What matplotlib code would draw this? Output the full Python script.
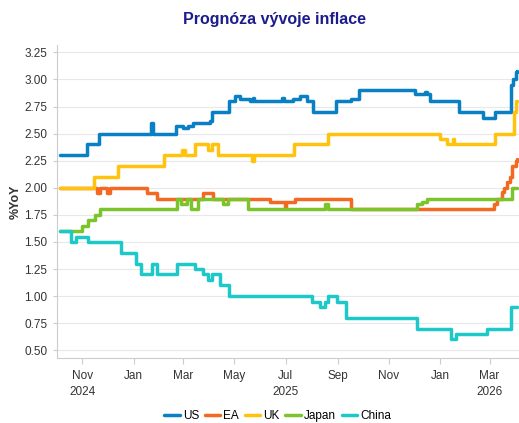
import pandas as pd
import matplotlib
matplotlib.use("Agg")
from matplotlib import pyplot as plt

plt.rcParams['font.family'] = ['Liberation Sans', 'DejaVu Sans']

# step change points (date, value)
us_dates = ['2024-10-06', '2024-11-07', '2024-11-21', '2025-01-22', '2025-01-24', '2025-02-20',
            '2025-03-01', '2025-03-07', '2025-03-13', '2025-04-02', '2025-04-05', '2025-04-25',
            '2025-05-02', '2025-05-08', '2025-05-20', '2025-05-23', '2025-05-25', '2025-06-27',
            '2025-06-29', '2025-07-10', '2025-07-18', '2025-07-27', '2025-08-03', '2025-08-30',
            '2025-09-17', '2025-09-26', '2025-12-02', '2025-12-14', '2025-12-16', '2025-12-20',
            '2026-01-24', '2026-02-21', '2026-03-07', '2026-03-27', '2026-03-29', '2026-04-01',
            '2026-04-03']
us_vals = [2.30, 2.40, 2.50, 2.60, 2.50, 2.57,
           2.55, 2.57, 2.60, 2.62, 2.70, 2.80,
           2.85, 2.82, 2.80, 2.83, 2.80, 2.83,
           2.80, 2.82, 2.85, 2.80, 2.70, 2.80,
           2.82, 2.90, 2.87, 2.88, 2.87, 2.80,
           2.70, 2.64, 2.70, 2.95, 3.00, 3.07,
           3.08]

ea_dates = ['2024-10-06', '2024-11-19', '2024-11-22', '2024-12-01', '2024-12-04', '2025-01-17',
            '2025-01-29', '2025-03-25', '2025-04-06', '2025-06-13', '2025-06-30', '2025-07-02',
            '2025-07-12', '2025-09-17', '2026-03-06', '2026-03-10', '2026-03-16', '2026-03-18',
            '2026-03-22', '2026-03-25', '2026-03-28', '2026-04-01', '2026-04-03']
ea_vals = [2.00, 1.95, 2.00, 1.95, 2.00, 1.95,
           1.90, 1.95, 1.90, 1.87, 1.82, 1.87,
           1.90, 1.80, 1.85, 1.90, 1.96, 2.00,
           2.05, 2.10, 2.20, 2.25, 2.27]

uk_dates = ['2024-10-06', '2024-11-15', '2024-12-13', '2025-02-06', '2025-02-28', '2025-03-03',
            '2025-03-15', '2025-03-31', '2025-04-05', '2025-04-12', '2025-05-22', '2025-05-25',
            '2025-07-11', '2025-08-20', '2026-01-01', '2026-01-09', '2026-01-12', '2026-01-16',
            '2026-01-18', '2026-03-07', '2026-03-30', '2026-04-01', '2026-04-03']
uk_vals = [2.00, 2.10, 2.20, 2.30, 2.35, 2.30,
           2.40, 2.35, 2.40, 2.30, 2.25, 2.30,
           2.40, 2.50, 2.45, 2.40, 2.40, 2.45,
           2.40, 2.50, 2.70, 2.80, 2.80]

jp_dates = ['2024-10-06', '2024-11-01', '2024-11-08', '2024-11-16', '2024-11-22', '2025-02-22',
            '2025-02-26', '2025-03-06', '2025-03-10', '2025-03-19', '2025-04-18', '2025-04-23',
            '2025-05-17', '2025-08-17', '2025-08-21', '2025-12-04', '2025-12-11', '2025-12-16',
            '2026-03-28', '2026-04-03']
jp_vals = [1.60, 1.65, 1.70, 1.75, 1.80, 1.90,
           1.85, 1.90, 1.80, 1.90, 1.85, 1.90,
           1.80, 1.85, 1.80, 1.85, 1.87, 1.90,
           2.00, 2.00]

cn_dates = ['2024-10-06', '2024-10-18', '2024-10-25', '2024-11-08', '2024-12-17', '2025-01-04',
            '2025-01-10', '2025-01-23', '2025-01-29', '2025-02-22', '2025-03-15', '2025-03-25',
            '2025-03-31', '2025-04-05', '2025-04-14', '2025-04-25', '2025-08-01', '2025-08-11',
            '2025-08-17', '2025-08-21', '2025-08-31', '2025-09-11', '2025-12-05', '2026-01-14',
            '2026-01-20', '2026-02-26', '2026-03-26', '2026-04-03']
cn_vals = [1.60, 1.50, 1.55, 1.50, 1.40, 1.30,
           1.20, 1.30, 1.20, 1.30, 1.25, 1.20,
           1.15, 1.20, 1.10, 1.00, 0.95, 0.90,
           0.95, 1.00, 0.95, 0.80, 0.70, 0.60,
           0.65, 0.70, 0.90, 0.90]

series = [('US', us_dates, us_vals, '#0A80C4'),
          ('EA', ea_dates, ea_vals, '#F26A21'),
          ('UK', uk_dates, uk_vals, '#FFC20E'),
          ('Japan', jp_dates, jp_vals, '#7CC42C'),
          ('China', cn_dates, cn_vals, '#1EC8C8')]

month_ticks = ['2024-11-01', '2025-01-01', '2025-03-01', '2025-05-01', '2025-07-01',
               '2025-09-01', '2025-11-01', '2026-01-01', '2026-03-01']
month_labels = ['Nov\n2024', 'Jan', 'Mar', 'May', 'Jul\n2025', 'Sep', 'Nov', 'Jan', 'Mar\n2026']
y_ticks = [0.50, 0.75, 1.00, 1.25, 1.50, 1.75, 2.00, 2.25, 2.50, 2.75, 3.00, 3.25]

fig = plt.figure(figsize=(5.19, 4.23), dpi=100)
ax = fig.add_axes([0.110, 0.154, 0.890, 0.740])

for name, d, v, c in series:
    ax.plot(pd.to_datetime(d), v, drawstyle='steps-post', color=c, lw=2.5, label=name,
            solid_joinstyle='round', solid_capstyle='round')

ax.set_xlim(pd.Timestamp('2024-10-02'), pd.Timestamp('2026-04-05'))
ax.set_ylim(0.43, 3.32)
ax.set_yticks(y_ticks)
ax.set_yticklabels([f'{t:.2f}' for t in y_ticks], fontsize=8.5, color='#333333')
ax.set_xticks(pd.to_datetime(month_ticks))
ax.set_xticklabels(month_labels, fontsize=8.5, color='#333333', linespacing=1.45, va='top')
ax.tick_params(axis='y', length=3, color='#cccccc', pad=4)
ax.tick_params(axis='x', length=4, color='#cccccc', pad=5)
ax.grid(axis='y', color='#e8e8e8', lw=0.8)
ax.set_axisbelow(True)
for s in ['top', 'right']:
    ax.spines[s].set_visible(False)
ax.spines['left'].set_color('#cccccc')
ax.spines['bottom'].set_color('#cccccc')

ax.set_ylabel('%YoY', fontsize=9, fontweight='bold', color='#333333', labelpad=2)
fig.text(0.528, 0.953, 'Prognóza vývoje inflace', ha='center', va='center', fontsize=11.5,
         fontweight='bold', color='#1C1C8C')

fig.legend(loc='center', bbox_to_anchor=(0.535, 0.017), ncol=5, frameon=False, fontsize=8.5,
           handlelength=1.3, handletextpad=0.25, columnspacing=0.5)

fig.savefig('out.png', dpi=100)
